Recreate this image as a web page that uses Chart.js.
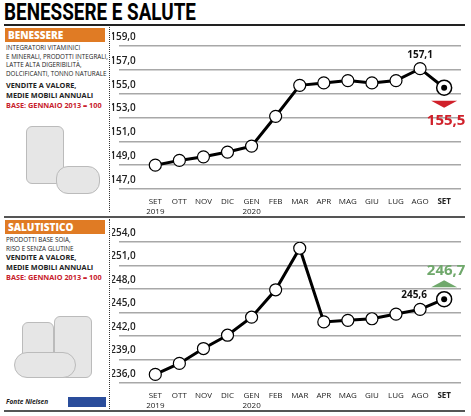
<!DOCTYPE html>
<html>
<head>
<meta charset="utf-8">
<script src="https://cdn.jsdelivr.net/npm/chart.js@4"></script>
<style>
  body { margin:0; width:471px; height:416px; background:#fff; font-family:"Open Sans",sans-serif; position:relative; overflow:hidden; }
  .abs { position:absolute; }
  h1 { position:absolute; left:4px; top:-1px; margin:0; font-family:"Roboto",sans-serif; font-weight:bold; font-size:23px; transform:scaleX(0.82); transform-origin:left top; }
  .rule { position:absolute; left:4px; width:461px; background:#222; }
  .tag { position:absolute; left:5px; width:100px; height:14px; background:#e07b24; color:#fff; font-weight:800; font-size:10px; line-height:14px; padding-left:3px; box-sizing:border-box; }
  .small { position:absolute; left:6px; font-size:6.3px; line-height:8.5px; color:#222; }
  .bold { position:absolute; left:6px; font-size:7.3px; line-height:10px; font-weight:bold; color:#222; }
  .red { position:absolute; left:6px; font-size:7.3px; font-weight:bold; color:#c8202a; }
  .dots { position:absolute; left:109px; border-left:1.5px dotted #333; }
  .ill { position:absolute; background:#e6e6e6; border:1.5px solid #bbb; border-radius:6px; }
</style>
</head>
<body>
<h1>BENESSERE E SALUTE</h1>
<div class="rule" style="top:24px;height:2px"></div>
<div class="rule" style="top:216px;height:1.5px;background:#555"></div>
<div class="rule" style="top:410px;height:2px;background:#555"></div>
<div class="dots" style="top:27px;height:185px"></div>
<div class="dots" style="top:219px;height:190px"></div>

<div class="tag" style="top:28px">BENESSERE</div>
<div class="small" style="top:44px">INTEGRATORI VITAMINICI<br>E MINERALI, PRODOTTI INTEGRALI,<br>LATTE ALTA DIGERIBILITÀ,<br>DOLCIFICANTI, TONNO NATURALE</div>
<div class="bold" style="top:80px">VENDITE A VALORE,<br>MEDIE MOBILI ANNUALI</div>
<div class="red" style="top:100px">BASE: GENNAIO 2013 = 100</div>
<div class="ill" style="left:26px;top:126px;width:36px;height:56px"></div>
<div class="ill" style="left:56px;top:166px;width:42px;height:26px;border-radius:12px"></div>

<div class="tag" style="top:220px">SALUTISTICO</div>
<div class="small" style="top:236px">PRODOTTI BASE SOIA,<br>RISO E SENZA GLUTINE</div>
<div class="bold" style="top:252px">VENDITE A VALORE,<br>MEDIE MOBILI ANNUALI</div>
<div class="red" style="top:272px">BASE: GENNAIO 2013 = 100</div>
<div class="ill" style="left:22px;top:322px;width:30px;height:50px"></div>
<div class="ill" style="left:54px;top:316px;width:36px;height:60px"></div>
<div class="ill" style="left:14px;top:352px;width:60px;height:24px;border-radius:30px"></div>
<div class="small" style="top:398px;font-style:italic;font-weight:bold;font-size:6.5px">Fonte Nielsen</div>
<div class="abs" style="left:68px;top:397px;width:38px;height:10px;background:#2a4d9b"></div>

<div class="abs" style="left:112px;top:28px;width:359px;height:189px"><canvas id="c1"></canvas></div>
<div class="abs" style="left:112px;top:221px;width:359px;height:190px"><canvas id="c2"></canvas></div>

<script>
const months = [['SET','2019'],'OTT','NOV','DIC',['GEN','2020'],'FEB','MAR','APR','MAG','GIU','LUG','AGO','SET'];
const benessere = [149.0, 149.4, 149.7, 150.1, 150.6, 153.1, 155.7, 155.9, 156.1, 155.9, 156.1, 157.1, 155.5];
const salutistico = [237.1, 238.5, 240.4, 242.1, 244.4, 247.9, 253.2, 243.8, 244.0, 244.2, 244.8, 245.4, 246.7];
const benTicks = [147, 149, 151, 153, 155, 157, 159];
const salTicks = [236, 239, 242, 245, 248, 251, 254];

const lbl = (v, d) => v.toFixed(d).replace('.', ',');

function notes(kind) {
  return {
    id: 'notes' + kind,
    afterDatasetsDraw(chart) {
      const ctx = chart.ctx, m = chart.getDatasetMeta(0);
      const last = m.data[12], prev = m.data[11];
      ctx.save();
      ctx.beginPath(); ctx.arc(last.x, last.y, 7.5, 0, Math.PI * 2);
      ctx.fillStyle = '#fff'; ctx.fill(); ctx.lineWidth = 1.5; ctx.strokeStyle = '#000'; ctx.stroke();
      ctx.beginPath(); ctx.arc(last.x, last.y, 3, 0, Math.PI * 2); ctx.fillStyle = '#000'; ctx.fill();
      ctx.textAlign = 'center';
      if (kind === 1) {
        ctx.font = 'bold 10px "Open Sans"'; ctx.fillStyle = '#111';
        ctx.fillText(lbl(benessere[11], 1), prev.x, prev.y - 11);
        ctx.fillStyle = '#d0202a';
        ctx.beginPath(); ctx.moveTo(last.x - 13, last.y + 13); ctx.lineTo(last.x + 13, last.y + 13); ctx.lineTo(last.x, last.y + 20); ctx.closePath(); ctx.fill();
        ctx.font = 'bold 15px "Open Sans"';
        ctx.fillText(lbl(benessere[12], 1), last.x + 2, last.y + 37);
      } else {
        ctx.font = 'bold 10px "Open Sans"'; ctx.fillStyle = '#111';
        ctx.fillText(lbl(245.6, 1), prev.x - 6, prev.y - 11);
        ctx.fillStyle = '#6fa86b';
        ctx.beginPath(); ctx.moveTo(last.x - 13, last.y - 12); ctx.lineTo(last.x + 13, last.y - 12); ctx.lineTo(last.x, last.y - 19); ctx.closePath(); ctx.fill();
        ctx.font = 'bold 15px "Open Sans"';
        ctx.fillText(lbl(salutistico[12], 1), last.x + 2, last.y - 24);
      }
      ctx.restore();
    }
  };
}

function makeChart(id, values, ticks, kind, top) {
  new Chart(document.getElementById(id), {
    type: 'line',
    data: { datasets: [{
      data: values.map((v, i) => ({ x: i, y: v })),
      borderColor: '#000', borderWidth: 3,
      pointRadius: 6, pointBackgroundColor: '#fff', pointBorderColor: '#000', pointBorderWidth: 1.2
    }] },
    options: {
      responsive: true, maintainAspectRatio: false, animation: false,
      layout: { padding: { top: top, left: 3, right: 10 } },
      plugins: { legend: { display: false }, tooltip: { enabled: false } },
      scales: {
        x: {
          type: 'linear', min: -1.5, max: 12.7,
          afterBuildTicks: s => { s.ticks = months.map((_, i) => ({ value: i })); },
          grid: { display: false }, border: { display: false },
          ticks: {
            autoSkip: false, maxRotation: 0, padding: 0, color: '#222',
            callback: v => months[v],
            font: c => ({ family: 'Open Sans', size: 8, lineHeight: 1.25, weight: c.index === 12 ? 'bold' : 'normal' })
          }
        },
        y: {
          min: ticks[0], max: ticks[ticks.length - 1],
          afterBuildTicks: s => { s.ticks = ticks.map(v => ({ value: v })); },
          grid: { color: '#a8a8a8', lineWidth: 1.5, drawTicks: false }, border: { display: false },
          ticks: { mirror: true, padding: -3, labelOffset: -9, color: '#222',
            font: { family: 'Open Sans', size: 10, weight: '600' },
            callback: v => lbl(v, 1) }
        }
      }
    },
    plugins: [notes(kind)]
  });
}

window.onload = function() {
  makeChart('c1', benessere, benTicks, 1, 18);
  makeChart('c2', salutistico, salTicks, 2, 21);
};
</script>
</body>
</html>
